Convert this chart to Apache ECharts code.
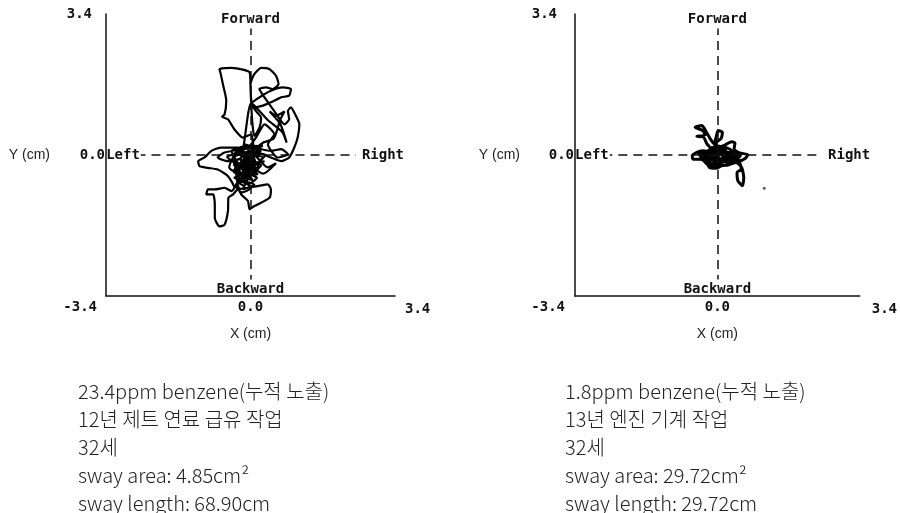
<!DOCTYPE html>
<html><head><meta charset="utf-8">
<script src="https://cdn.jsdelivr.net/npm/echarts@6/dist/echarts.min.js"></script>
<style>html,body{margin:0;padding:0;background:#fff}#c{width:900px;height:513px}</style>
</head><body><div id="c"></div>
<script>
// ---- data (cm) ----
var axisRange = [-3.4, 3.4];
var tickStep = 3.4;
var leftSway = [
 [0,-0.06],[0.09,0.10],[0.05,0.34],[0.02,0.50],[-0.18,0.42],[-0.38,0.62],[-0.53,0.86],[-0.67,0.92],[-0.61,0.98],
 [-0.57,1.31],[-0.65,1.71],[-0.70,1.95],[-0.73,2.07],[-0.45,2.10],[-0.18,2.06],[-0.02,1.99],[0,1.63],[0.02,1.15],
 [0.05,0.70],[0.09,0.46],[0.21,0.66],[0.25,0.90],[0.13,1.06],[0.02,1.23],[0.21,1.39],[0.48,1.55],[0.76,1.63],
 [0.95,1.59],[0.91,1.43],[0.72,1.39],[0.48,1.27],[0.29,1.19],[0.09,1.15],[0.02,1.31],[0,1.71],[0.09,1.95],
 [0.25,2.10],[0.45,2.07],[0.60,1.91],[0.66,1.71],[0.52,1.59],[0.37,1.63],[0.21,1.59],[0.33,1.39],[0.56,1.06],
 [0.80,0.74],[0.91,0.86],[0.88,1.06],[0.95,1.15],[1.07,0.94],[1.15,0.74],[1.11,0.42],[1.03,0.18],[0.91,-0.06],
 [0.72,-0.15],[0.48,-0.06],[0.25,0.02],[0.02,-0.06],[-0.30,0.18],[-0.69,0.18],[-0.92,0.10],[-1.08,-0.06],
 [-1.23,-0.15],[-1.20,-0.27],[-1.00,-0.31],[-0.77,-0.35],[-0.53,-0.51],[-0.38,-0.79],[-0.45,-0.87],[-0.61,-0.79],
 [-0.84,-0.83],[-1.00,-0.83],[-1.04,-0.95],[-0.88,-0.95],[-0.84,-1.19],[-0.84,-1.52],[-0.73,-1.72],[-0.61,-1.68],
 [-0.53,-1.35],[-0.52,-1.03],[-0.41,-0.95],[-0.30,-0.83],[-0.06,-0.79],[0.17,-0.75],[0.41,-0.71],[0.48,-0.83],
 [0.45,-1.03],[0.25,-1.15],[0.09,-1.23],[-0.02,-1.31],[-0.06,-1.11],[-0.22,-0.95],[-0.30,-0.71],
 [-0.38,-0.06],[0.25,0.10],[-0.30,-0.23],[0.33,-0.15],[-0.34,-0.39],[0.17,-0.47],[-0.14,-0.06],[0.17,0.18],
 [-0.45,0.10],[-0.06,-0.55],[-0.22,-0.23],[0.09,-0.15],[-0.30,0.02],[0.29,-0.06],[-0.06,-0.39],[-0.38,-0.55],
 [0.09,-0.71],[-0.18,-0.83],[0.02,-0.23],[-0.26,0.18],[0.29,0.22],[-0.10,0.02],[0.05,-0.39],[-0.41,-0.23],
 [0.21,-0.31],[-0.14,0.26],[0.48,0.10],[0.72,0.14],[0.88,0.02],[0.64,-0.06],[0.41,0.26],[0.56,0.50],[0.33,0.74],
 [0.13,0.42],[-0.06,0.18],[-0.61,0.06],[-0.77,-0.06],[-0.53,-0.15],[-0.22,-0.06],
 [0.02,1.25],[0.40,0.85],[0.75,0.55],[0.85,0.30],[0.70,0.75],[0.45,1.05],[0.60,0.95],[0.80,1.05],[0.70,0.85],
 [0.55,0.40],[0.30,0.30],[0.05,0.10],[-0.25,0.05],[-0.55,-0.05],[-0.35,-0.20],[-0.10,-0.30],[0.15,-0.20],
 [0.35,0.00],[0.10,0.05],[-0.20,-0.15],[-0.40,-0.40],[-0.15,-0.50],[0.10,-0.40],[0.25,-0.25],[-0.05,-0.15],
 [-0.30,-0.30],[-0.25,-0.60],[-0.05,-0.70],[0.15,-0.55],[-0.10,-0.45],[-0.35,-0.75],[-0.20,-0.90],[0.00,-0.80],
 [-0.15,-0.60],[-0.40,0.00],[-0.10,0.15],[0.15,-0.05],[0.40,-0.30],[0.60,-0.20],[0.30,-0.45],[0.00,-0.30],
 [-0.25,-0.45],[-0.50,-0.30],[-0.30,0.10],[0.00,0.00],[0.20,0.15],[-0.05,-0.20],[-0.20,0.00],[0.10,-0.10],
 [-0.15,-0.35],[0.05,-0.60],[-0.30,-0.50],
 [-0.20,-0.20],[0.05,-0.10],[-0.10,-0.25],[-0.25,-0.10],[0.10,-0.25],[-0.05,-0.40],[-0.20,-0.35],[0.00,-0.50],
 [-0.20,-0.55],[-0.10,-0.65],[-0.30,-0.65],[-0.15,-0.75],[0.05,-0.05],[-0.12,0.05],[0,-0.06]
];
var rightSway = [
 [0,0],[-0.13,0.14],[-0.25,0.27],[-0.33,0.43],[-0.49,0.45],[-0.29,0.48],[-0.35,0.59],[-0.53,0.67],[-0.37,0.71],
 [-0.31,0.64],[-0.25,0.53],[-0.17,0.39],[-0.08,0.27],[-0.03,0.43],[0.02,0.59],[0.12,0.55],[0.09,0.40],[-0.03,0.29],
 [0.02,0.18],[0.18,0.24],[0.34,0.32],[0.42,0.29],[0.40,0.14],[0.53,0.05],[0.73,0.01],[0.67,-0.08],[0.53,-0.14],
 [0.38,-0.06],[0.22,0],[0.53,-0.18],[0.57,-0.34],[0.47,-0.42],[0.49,-0.62],[0.60,-0.74],[0.63,-0.54],[0.58,-0.30],
 [0.45,-0.18],[0.26,-0.24],[0.10,-0.26],[-0.03,-0.32],[-0.19,-0.30],[-0.25,-0.18],[-0.41,-0.10],[-0.58,-0.10],
 [-0.60,-0.02],[-0.50,0.06],[-0.35,0.10],[-0.17,0.08],[0.06,0.10],[0.26,0.06],[0.14,-0.10],[-0.13,-0.10],
 [-0.29,0.02],[-0.02,0.22],[0.30,0.14],[0.45,-0.06],[0.06,-0.18],[-0.21,-0.02],[-0.05,0.06],[0.18,-0.06],
 [-0.09,-0.22],[-0.33,-0.02],[0.10,0.02],[0.30,-0.10],[0.02,-0.10],[-0.17,0.18],[0.14,0.14],
 [0.20,0.10],[-0.10,0.00],[-0.30,-0.10],[-0.15,-0.20],[0.10,-0.15],[0.35,-0.02],[0.50,-0.08],[0.25,-0.18],
 [0.00,-0.05],[-0.20,0.10],[-0.40,0.00],[-0.20,-0.25],[0.05,-0.25],[0.20,0.00],[0.40,0.08],[0.15,0.05],
 [-0.05,0.15],[-0.25,-0.05],[0.00,-0.15],[0.30,0.05],[0.55,-0.02],[0.35,-0.15],[0.10,0.08],[-0.15,0.02],
 [-0.45,0.05],[-0.30,-0.15],[0.05,0.00],[0,0]
];
var rightStray = [[1.12,-0.80]];
var crossEnds = { top: 3.05, bottom: -3.0, left: -2.58, right: 2.48 };
var crossEndsR = { top: 3.05, bottom: -3.0, left: -2.57, right: 2.50 };
var dirLabels = ['Forward', 'Backward', 'Left', 'Right'];
var leftText = ['23.4ppm benzene(누적 노출)', '12년 제트 연료 급유 작업', '32세', 'sway area: 4.85cm²', 'sway length: 68.90cm'];
var rightText = ['1.8ppm benzene(누적 노출)', '13년 엔진 기계 작업', '32세', 'sway area: 29.72cm²', 'sway length: 29.72cm'];

// ---- chart ----
var MONO = '"DejaVu Sans Mono", monospace';
var INK = '#111';
var FS = 14;
var chart = echarts.init(document.getElementById('c'), null, {renderer: 'canvas'});

function fmt(v) { return Math.abs(v) < 1e-9 ? '0.0' : v.toFixed(1); }

function xAxisFor(gi, padMin, padMax) {
  return {
    type: 'value', gridIndex: gi, min: axisRange[0], max: axisRange[1], interval: tickStep,
    axisLine: {show: true, onZero: false, lineStyle: {color: INK, width: 1.5}},
    axisTick: {show: false}, splitLine: {show: false},
    axisLabel: {
      margin: 4, color: INK, fontFamily: MONO, fontWeight: 'bold', fontSize: FS,
      alignMinLabel: 'right', alignMaxLabel: 'left',
      formatter: function (v) {
        if (v <= axisRange[0] + 1e-9) return '{mn|' + fmt(v) + '}';
        if (v >= axisRange[1] - 1e-9) return '{mx|' + fmt(v) + '}';
        return fmt(v);
      },
      rich: {
        mn: {fontFamily: MONO, fontWeight: 'bold', fontSize: FS, color: INK, padding: [0, padMin, 0, 0]},
        mx: {fontFamily: MONO, fontWeight: 'bold', fontSize: FS, color: INK, padding: [2, 0, 0, padMax]}
      }
    },
    name: 'X (cm)', nameLocation: 'middle', nameGap: 31,
    nameTextStyle: {fontFamily: '"Liberation Sans", Arial, sans-serif', fontSize: 14, color: '#222'}
  };
}
function yAxisFor(gi, padTop, nameGap) {
  return {
    type: 'value', gridIndex: gi, min: axisRange[0], max: axisRange[1], interval: tickStep,
    axisLine: {show: true, onZero: false, lineStyle: {color: INK, width: 1.5}},
    axisTick: {show: false}, splitLine: {show: false},
    axisLabel: {
      margin: 1, color: INK, fontFamily: MONO, fontWeight: 'bold', fontSize: FS,
      formatter: function (v) {
        if (v <= axisRange[0] + 1e-9) return '';
        if (v >= axisRange[1] - 1e-9) return '{t|' + fmt(v) + '}';
        return fmt(v);
      },
      rich: {t: {fontFamily: MONO, fontWeight: 'bold', fontSize: FS, color: INK, padding: [0, padTop, 0, 0]}}
    },
    name: 'Y (cm)', nameLocation: 'middle', nameRotate: 0, nameGap: nameGap,
    nameTextStyle: {fontFamily: '"Liberation Sans", Arial, sans-serif', fontSize: 14, color: '#222'}
  };
}
function cross(e) {
  var lab = function (t, d) { return {label: {show: true, formatter: t, position: 'end', distance: d}}; };
  return {
    silent: true, symbol: ['none', 'none'], animation: false,
    lineStyle: {type: [9, 6], color: INK, width: 1.5},
    label: {fontFamily: MONO, fontWeight: 'bold', fontSize: FS, color: INK},
    emphasis: {disabled: true},
    data: [
      [{coord: [0, 0]}, Object.assign({coord: [0, e.top]}, lab(dirLabels[0], 2))],
      [{coord: [0, 0]}, Object.assign({coord: [0, e.bottom]}, lab(dirLabels[1], 3))],
      [{coord: [0, 0]}, Object.assign({coord: [e.left, 0]}, lab(dirLabels[2], 1))],
      [{coord: [0, 0]}, Object.assign({coord: [e.right, 0]}, lab(dirLabels[3], 6))]
    ]
  };
}
var textStyle = {fontFamily: '"Noto Sans CJK KR", sans-serif', fontWeight: 300, fontSize: 20, lineHeight: 28, color: '#222'};

chart.setOption({
  animation: false,
  backgroundColor: '#fff',
  title: [
    {text: leftText.join('\n'), left: 78, top: 377, padding: 0, textStyle: textStyle},
    {text: rightText.join('\n'), left: 565, top: 377, padding: 0, textStyle: textStyle}
  ],
  grid: [
    {left: 106, top: 14, width: 289, height: 282, containLabel: false},
    {left: 575, top: 14, width: 288, height: 282, containLabel: false}
  ],
  xAxis: [xAxisFor(0, 9, 10), xAxisFor(1, 10, 12)],
  yAxis: [yAxisFor(0, 13, 56), yAxisFor(1, 17, 55)],
  series: [
    {type: 'line', xAxisIndex: 0, yAxisIndex: 0, data: leftSway, showSymbol: false, smooth: 0.2,
     lineStyle: {color: '#000', width: 2.2}, markLine: cross(crossEnds), z: 3},
    {type: 'line', xAxisIndex: 1, yAxisIndex: 1, data: rightSway, showSymbol: false, smooth: 0.2,
     lineStyle: {color: '#000', width: 3}, markLine: cross(crossEndsR), z: 3},
    {type: 'scatter', xAxisIndex: 1, yAxisIndex: 1, data: rightStray, symbolSize: 3,
     itemStyle: {color: '#333'}}
  ]
});
</script></body></html>
